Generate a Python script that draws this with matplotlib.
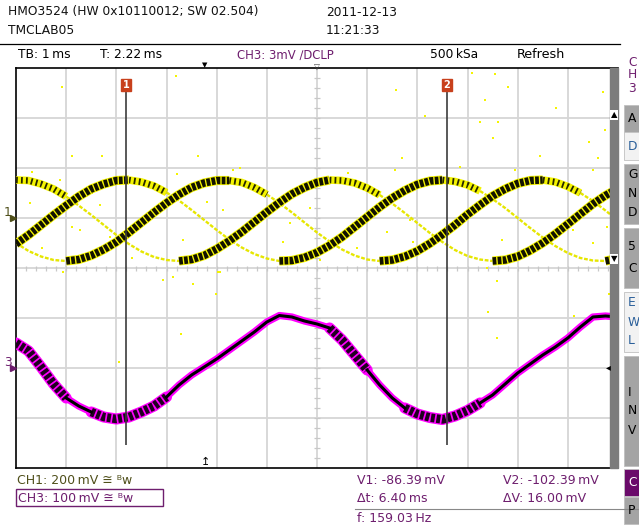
import matplotlib
matplotlib.use('Agg')
import matplotlib.pyplot as plt
import numpy as np
from matplotlib.patches import Rectangle

# screen: 12 divisions of 1 ms, 8 divisions vertical, samples every 0.25 div
t = np.arange(49) * 0.25

# CH1 (yellow), three phase-shifted traces, values in divisions
ch1_a = [0.48, 0.66, 0.86, 1.06, 1.25, 1.43, 1.58, 1.68, 1.75, 1.76, 1.72, 1.64, 1.51,
         1.35, 1.16, 0.96, 0.76, 0.57, 0.41, 0.28, 0.19, 0.14, 0.15, 0.21, 0.31, 0.45,
         0.62, 0.82, 1.02, 1.22, 1.40, 1.55, 1.67, 1.74, 1.76, 1.73, 1.66, 1.54, 1.38,
         1.20, 1.00, 0.80, 0.61, 0.44, 0.30, 0.20, 0.15, 0.14, 0.19]
ch1_b = [0.50, 0.34, 0.23, 0.16, 0.14, 0.17, 0.25, 0.37, 0.52, 0.71, 0.91, 1.11, 1.30,
         1.47, 1.61, 1.70, 1.75, 1.75, 1.71, 1.61, 1.47, 1.30, 1.11, 0.91, 0.71, 0.53,
         0.37, 0.25, 0.17, 0.14, 0.16, 0.23, 0.34, 0.49, 0.67, 0.86, 1.07, 1.26, 1.44,
         1.58, 1.69, 1.75, 1.76, 1.72, 1.63, 1.50, 1.34, 1.15, 0.95]
ch1_c = [1.76, 1.75, 1.68, 1.58, 1.43, 1.25, 1.06, 0.86, 0.66, 0.48, 0.33, 0.22, 0.16,
         0.14, 0.17, 0.25, 0.38, 0.54, 0.72, 0.92, 1.12, 1.31, 1.48, 1.61, 1.71, 1.76,
         1.75, 1.70, 1.60, 1.46, 1.29, 1.10, 0.90, 0.70, 0.52, 0.36, 0.24, 0.17, 0.14,
         0.16, 0.23, 0.35, 0.50, 0.68, 0.88, 1.08, 1.28, 1.45, 1.59]

# CH3 (magenta), divisions
ch3 = [-1.50, -1.66, -1.98, -2.32, -2.60, -2.76, -2.88, -2.98, -3.02, -2.98, -2.88, -2.76,
       -2.58, -2.34, -2.14, -1.98, -1.82, -1.64, -1.46, -1.28, -1.08, -0.95, -0.98, -1.06,
       -1.12, -1.20, -1.44, -1.74, -2.04, -2.34, -2.60, -2.80, -2.92, -2.99, -3.03, -2.96,
       -2.85, -2.70, -2.54, -2.32, -2.10, -1.92, -1.74, -1.58, -1.40, -1.18, -0.98, -0.96,
       -0.98]
ch3_noisy = [(0.0, 1.0), (1.5, 3.0), (6.25, 7.0), (7.75, 9.25)]

# stray acquisition dots (t, div)
dots_t = [9.09, 9.55, 7.57, 9.81, 9.35, 11.70, 10.76, 8.15, 9.25, 9.61, 11.74, 9.51, 11.42,
          7.69, 10.44, 11.60, 8.85, 0.92, 3.19, 1.12, 1.71, 3.63, 4.46, 0.32, 0.88, 3.21,
          1.51, 0.28, 1.67, 1.12, 3.81, 3.33, 1.28, 1.87, 2.31, 2.93, 3.13, 4.03, 0.94,
          0.52, 4.33, 6.62, 7.55, 4.13, 5.86, 7.85, 5.46, 7.39, 5.32, 6.80, 6.06, 4.07,
          7.91, 9.95, 11.50, 11.78, 9.69, 11.50, 9.85, 9.39, 11.10, 3.53, 3.99, 3.29,
          2.05, 9.59, 9.41, 9.59, 11.12, 11.82]
dots_v = [3.90, 3.88, 3.56, 3.62, 3.36, 3.52, 3.20, 3.04, 2.92, 2.92, 2.76, 2.60, 2.52,
          2.20, 2.24, 2.20, 2.02, 3.62, 3.84, 2.24, 2.24, 2.24, 2.00, 1.92, 1.76, 1.88,
          1.50, 1.30, 1.26, 0.82, 1.32, 0.56, 0.76, 0.62, 0.20, -0.24, -0.18, -0.08, -0.08,
          0.40, 1.96, 1.90, 1.96, 1.16, 1.20, 0.96, 0.90, 0.72, 0.52, 0.40, 0.16, -0.08,
          0.52, 1.96, 1.96, 0.82, 0.56, 0.50, 0.26, 0.00, 0.76, -0.32, -0.52, -1.32,
          -1.88, -0.26, -0.88, -1.40, -0.96, -0.52]

cursor_t = [2.19, 8.59]
ch_offset = {'1': 1.0, '3': -2.0}

W, H = 639, 526
PURPLE = '#6e1e6e'
OLIVE = '#4f4f1a'
YEL = '#f4f400'
TS = '\u2009'


def fx(px):
    return px / W


def fy(py):
    return 1 - py / H


def grow(mask):
    # include both end points of every flagged segment
    m = np.zeros(len(mask) + 1, bool)
    m[:-1] |= mask
    m[1:] |= mask
    return m


fig = plt.figure(figsize=(W / 100, H / 100), dpi=100)
fig.patch.set_facecolor('white')

ax = fig.add_axes([fx(16), fy(468), 602 / W, 400 / H])
ax.set_xlim(0, 12)
ax.set_ylim(-4, 4)
ax.set_xticks([])
ax.set_yticks([])
for s in ax.spines.values():
    s.set_color('black')
    s.set_linewidth(1.2)
ax.spines['right'].set_visible(False)

# graticule
for gx in range(1, 12):
    ax.axvline(gx, color='#d6d6d6', lw=1.3, zorder=0)
for gy in range(-3, 4):
    ax.axhline(gy, color='#d6d6d6', lw=1.3, zorder=0)
minor = np.arange(0.2, 12, 0.2)
ax.vlines(minor, -0.05, 0.05, color='#c8c8c8', lw=0.9, zorder=0)
minor_y = np.arange(-3.8, 4, 0.2)
ax.hlines(minor_y, 5.95, 6.05, color='#c8c8c8', lw=0.9, zorder=0)

ax.scatter(dots_t, dots_v, s=3.5, marker='s', color=YEL, lw=0, zorder=1)


def draw_ch1(y):
    y = np.asarray(y, dtype=float)
    up = np.diff(y) >= 0
    top = np.minimum(y[:-1], y[1:]) > 1.42
    dense = np.where(grow(up), y, np.nan)
    striped = np.where(grow(~up & top), y, np.nan)
    thin = np.where(grow(~up & ~top), y, np.nan)
    ax.plot(t, thin, color='#e6e600', lw=1.7, ls=(0, (1.6, 0.7)), zorder=2)
    ax.plot(t, striped, color=YEL, lw=5.5, zorder=3, solid_capstyle='butt')
    ax.plot(t, striped, color='#262600', lw=4.6, ls=(0, (0.28, 0.5)), zorder=3,
            dash_capstyle='butt')
    ax.plot(t, dense, color=YEL, lw=6.6, zorder=4, solid_capstyle='butt')
    ax.plot(t, dense, color='#121200', lw=5.4, ls=(0, (0.5, 0.18)), zorder=4,
            dash_capstyle='butt')


for tr in (ch1_a, ch1_b, ch1_c):
    draw_ch1(tr)

# CH3
y3 = np.asarray(ch3)
noisy_pt = np.zeros(len(t), bool)
for a, b in ch3_noisy:
    noisy_pt |= (t >= a) & (t <= b)
noisy_seg = noisy_pt[:-1] & noisy_pt[1:]
yn = np.where(grow(noisy_seg), y3, np.nan)
yc = np.where(grow(~noisy_seg), y3, np.nan)
ax.plot(t, y3, color='#ff00ff', lw=5.2, zorder=4, solid_capstyle='round')
ax.plot(t, yn, color='#ff00ff', lw=8, zorder=4, solid_capstyle='round')
ax.plot(t, yn, color='#200020', lw=6.2, ls=(0, (0.45, 0.2)), zorder=5, dash_capstyle='butt')
ax.plot(t, yc, color='black', lw=2.2, zorder=5)

# cursors
ax.vlines(cursor_t, -3.54, 3.56, color='#3c3c3c', lw=1.2, zorder=6)
for i, ct in enumerate(cursor_t):
    ax.text(ct, 3.66, str(i + 1), color='white', fontsize=7, ha='center', va='center',
            fontweight='bold', zorder=7,
            bbox=dict(boxstyle='square,pad=0.15', fc='#c8401c', ec='#c8401c'))

# channel ground markers on the left edge
ax.plot([-0.06], [ch_offset['1']], marker='>', ms=4, color=OLIVE, clip_on=False, zorder=9)
ax.plot([-0.06], [ch_offset['3']], marker='>', ms=4, color=PURPLE, clip_on=False, zorder=9)

# right scroll bar
ax.add_patch(Rectangle((11.84, -4), 0.16, 8, color='#7c7c7c', zorder=8, clip_on=False))
ax.text(11.92, 3.06, '▲', fontsize=6, ha='center', va='center', zorder=9,
        bbox=dict(boxstyle='square,pad=0.1', fc='white', ec='none'))
ax.text(11.92, 0.18, '▼', fontsize=6, ha='center', va='center', zorder=9,
        bbox=dict(boxstyle='square,pad=0.1', fc='white', ec='none'))
ax.text(11.80, -1.98, '◂', fontsize=7, ha='center', va='center', zorder=9)

# header
fs = 8.8
fig.text(fx(8), fy(12), 'HMO3524 (HW 0x10110012; SW 02.504)', fontsize=fs, va='center',
         color='#111111')
fig.text(fx(8), fy(31), 'TMCLAB05', fontsize=fs, va='center', color='#111111')
fig.text(fx(326), fy(12), '2011-12-13', fontsize=fs, va='center', color='#111111')
fig.text(fx(326), fy(31), '11:21:33', fontsize=fs, va='center', color='#111111')
fig.add_artist(plt.Line2D([fx(0), fx(620)], [fy(44), fy(44)], color='black', lw=0.9))

fig.text(fx(18), fy(55), 'TB: 1' + TS + 'ms', fontsize=fs, va='center')
fig.text(fx(100), fy(55), 'T: 2.22' + TS + 'ms', fontsize=fs, va='center')
fig.text(fx(237), fy(55), 'CH3: 3mV ∕DCLP', fontsize=8.4, va='center', color=PURPLE)
fig.text(fx(430), fy(55), '500' + TS + 'kSa', fontsize=fs, va='center')
fig.text(fx(517), fy(55), 'Refresh', fontsize=9.2, va='center')
fig.text(fx(205), fy(65), '▼', fontsize=5, ha='center', va='center')
fig.text(fx(317), fy(66), '▽', fontsize=5.5, ha='center', va='center', color='#555555')
fig.text(fx(205), fy(462), '↥', fontsize=8, ha='center', va='center')
for py, ch in ((62, 'C'), (75, 'H'), (89, '3')):
    fig.text(fx(628), fy(py), ch, fontsize=fs, va='center', color=PURPLE)

fig.text(fx(4), fy(212), '1', fontsize=fs, va='center', color=OLIVE)
fig.text(fx(4), fy(362), '3', fontsize=fs, va='center', color=PURPLE)

# side menu (clipped at the right edge)
buttons = [(105, 132, '#a4a4a4', ['A'], 'black'), (132, 160, '#f2f2f2', ['D'], '#2a5f9a'),
           (164, 224, '#a4a4a4', ['G', 'N', 'D'], 'black'),
           (228, 288, '#a4a4a4', ['5', 'C'], 'black'),
           (292, 352, '#f2f2f2', ['E', 'W', 'L'], '#2a5f9a'),
           (356, 466, '#a4a4a4', ['I', 'N', 'V'], 'black'),
           (469, 496, '#6a0a6a', ['C'], 'white'),
           (497, 524, '#a4a4a4', ['P'], 'black')]
for top, bot, fc, letters, tc in buttons:
    fig.add_artist(Rectangle((fx(624), fy(bot)), 20 / W, (bot - top) / H, fc=fc,
                             ec='#c0c0c0', lw=0.6))
    n = len(letters)
    mid = (top + bot) / 2
    step = 22 if n == 2 else 19
    for i, ch in enumerate(letters):
        py = mid + (i - (n - 1) / 2) * step
        fig.text(fx(628), fy(py), ch, fontsize=fs, va='center', color=tc)

# bottom status
fb = 9.0
fig.text(fx(17), fy(480), 'CH1: 200' + TS + 'mV ≅ ᴮw', fontsize=fb, va='center', color=OLIVE)
fig.add_artist(Rectangle((fx(16), fy(506)), 147 / W, 17 / H, fc='none', ec=PURPLE, lw=1))
fig.text(fx(18), fy(498), 'CH3: 100' + TS + 'mV ≅ ᴮw', fontsize=fb, va='center', color=PURPLE)
fig.text(fx(357), fy(480), 'V1: -86.39' + TS + 'mV', fontsize=fb, va='center', color=PURPLE)
fig.text(fx(503), fy(480), 'V2: -102.39' + TS + 'mV', fontsize=fb, va='center', color=PURPLE)
fig.text(fx(357), fy(499), 'Δt: 6.40' + TS + 'ms', fontsize=fb, va='center', color=PURPLE)
fig.text(fx(503), fy(499), 'ΔV: 16.00' + TS + 'mV', fontsize=fb, va='center', color=PURPLE)
fig.add_artist(plt.Line2D([fx(355), fx(639)], [fy(509), fy(509)], color='#888888', lw=0.8))
fig.text(fx(357), fy(518), 'f: 159.03' + TS + 'Hz', fontsize=fb, va='center', color=PURPLE)

fig.savefig('out.png', dpi=100)
